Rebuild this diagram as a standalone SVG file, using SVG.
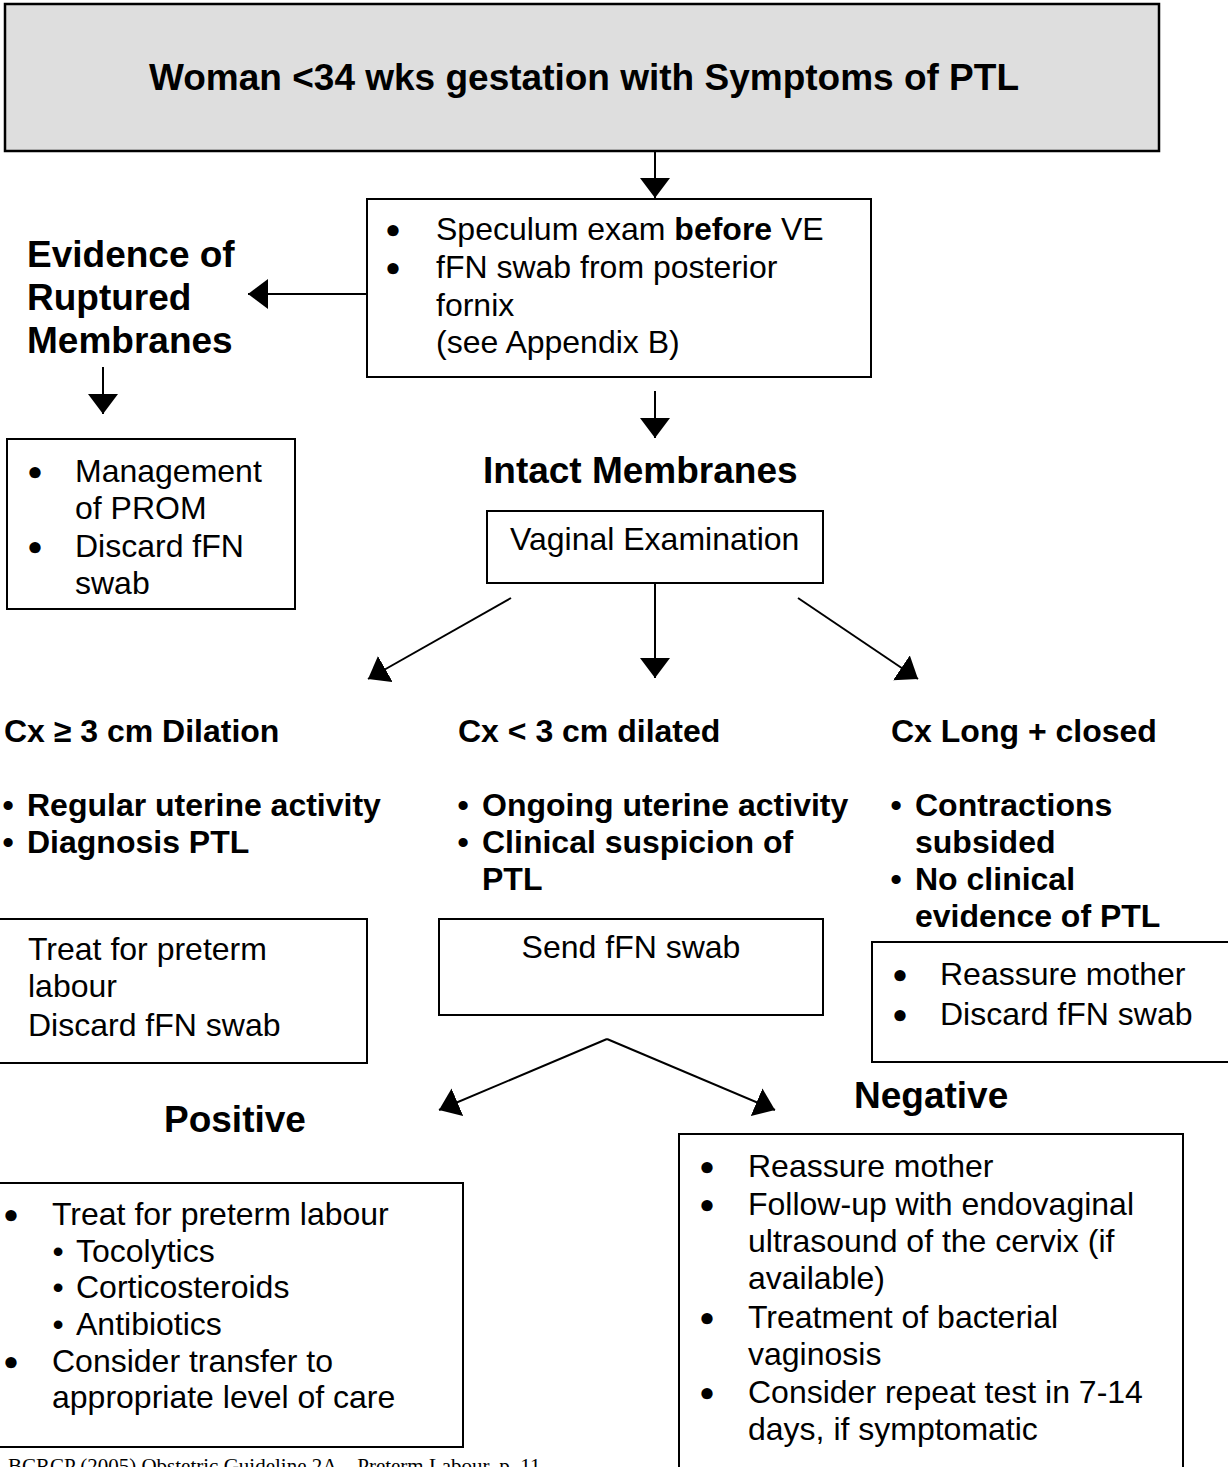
<svg xmlns="http://www.w3.org/2000/svg" width="1228" height="1467" viewBox="0 0 1228 1467">
<defs>
<style>
text { font-family: "Liberation Sans", Arial, sans-serif; font-size: 32px; fill: #000; }
.b { font-weight: bold; }
.h { font-size: 37px; font-weight: bold; }
.ttl { font-size: 37px; font-weight: bold; text-anchor: middle; }
.bul { font-family: "DejaVu Sans", sans-serif; font-weight: bold; font-size: 32px; text-anchor: middle; }
.sb { text-anchor: middle; }
.mid { text-anchor: middle; }
.box { fill: #fff; stroke: #000; stroke-width: 2; }
.grey { fill: #dedede; stroke: #000; stroke-width: 2.5; }
.con { stroke: #000; stroke-width: 2; fill: none; marker-end: url(#ah); }
.foot { font-family: "Liberation Serif", "Times New Roman", serif; font-size: 21px; }
</style>
<marker id="ah" viewBox="0 0 20 30" refX="20" refY="15" markerWidth="20" markerHeight="30" markerUnits="userSpaceOnUse" orient="auto">
<path d="M0,0 L20,15 L0,30 z" fill="#000"/>
</marker>
</defs>
<rect width="1228" height="1467" fill="#fff"/>

<g id="connectors">
<line class="con" x1="655" y1="151" x2="655" y2="198"/>
<line class="con" x1="367" y1="294" x2="248" y2="294"/>
<line class="con" x1="103" y1="367" x2="103" y2="414"/>
<line class="con" x1="655" y1="391" x2="655" y2="438"/>
<line class="con" x1="511" y1="598" x2="368" y2="679"/>
<line class="con" x1="655" y1="583" x2="655" y2="678"/>
<line class="con" x1="798" y1="598" x2="918" y2="679"/>
<line class="con" x1="607" y1="1039" x2="439" y2="1110"/>
<line class="con" x1="607" y1="1039" x2="775" y2="1110"/>
</g>

<g id="start">
<rect class="grey" x="5" y="4" width="1154" height="147"/>
<text class="ttl" x="584" y="90">Woman &lt;34 wks gestation with Symptoms of PTL</text>
</g>

<g id="speculum">
<rect class="box" x="367" y="199" width="504" height="178"/>
<text class="bul" x="393" y="243">•</text>
<text class="bul" x="393" y="281">•</text>
<text x="436" y="240">Speculum exam <tspan class="b">before</tspan> VE</text>
<text x="436" y="278">fFN swab from posterior</text>
<text x="436" y="316">fornix</text>
<text x="436" y="353">(see Appendix B)</text>
</g>

<g id="ruptured">
<text class="h" x="27" y="267">Evidence of</text>
<text class="h" x="27" y="310">Ruptured</text>
<text class="h" x="27" y="353">Membranes</text>
</g>

<g id="prom">
<rect class="box" x="7" y="439" width="288" height="170"/>
<text class="bul" x="35" y="485">•</text>
<text class="bul" x="35" y="560">•</text>
<text x="75" y="482">Management</text>
<text x="75" y="519">of PROM</text>
<text x="75" y="557">Discard fFN</text>
<text x="75" y="594">swab</text>
</g>

<g id="intact">
<text class="h" x="483" y="483">Intact Membranes</text>
</g>

<g id="ve">
<rect class="box" x="487" y="511" width="336" height="72"/>
<text x="510" y="550">Vaginal Examination</text>
</g>

<g id="dilation">
<text class="b" x="4" y="742">Cx ≥ 3 cm Dilation</text>
<text class="b sb" x="8" y="816">•</text>
<text class="b" x="27" y="816">Regular uterine activity</text>
<text class="b sb" x="8" y="853">•</text>
<text class="b" x="27" y="853">Diagnosis PTL</text>
</g>

<g id="dilated">
<text class="b" x="458" y="742">Cx &lt; 3 cm dilated</text>
<text class="b sb" x="463" y="816">•</text>
<text class="b" x="482" y="816">Ongoing uterine activity</text>
<text class="b sb" x="463" y="853">•</text>
<text class="b" x="482" y="853">Clinical suspicion of</text>
<text class="b" x="482" y="890">PTL</text>
</g>

<g id="closed">
<text class="b" x="891" y="742">Cx Long + closed</text>
<text class="b sb" x="896" y="816">•</text>
<text class="b" x="915" y="816">Contractions</text>
<text class="b" x="915" y="853">subsided</text>
<text class="b sb" x="896" y="890">•</text>
<text class="b" x="915" y="890">No clinical</text>
<text class="b" x="915" y="927">evidence of PTL</text>
</g>

<g id="treat">
<rect class="box" x="-5" y="919" width="372" height="144"/>
<text x="28" y="960">Treat for preterm</text>
<text x="28" y="997">labour</text>
<text x="28" y="1036">Discard fFN swab</text>
</g>

<g id="send">
<rect class="box" x="439" y="919" width="384" height="96"/>
<text class="mid" x="631" y="958">Send fFN swab</text>
</g>

<g id="reassure">
<rect class="box" x="872" y="942" width="370" height="120"/>
<text class="bul" x="900" y="988">•</text>
<text class="bul" x="900" y="1028">•</text>
<text x="940" y="985">Reassure mother</text>
<text x="940" y="1025">Discard fFN swab</text>
</g>

<g id="positive">
<text class="h" x="164" y="1132">Positive</text>
<rect class="box" x="-5" y="1183" width="468" height="264"/>
<text class="bul" x="11" y="1228">•</text>
<text class="bul" x="11" y="1375">•</text>
<text x="52" y="1225">Treat for preterm labour</text>
<text class="sb" x="58" y="1262">•</text>
<text x="76" y="1262">Tocolytics</text>
<text class="sb" x="58" y="1298">•</text>
<text x="76" y="1298">Corticosteroids</text>
<text class="sb" x="58" y="1335">•</text>
<text x="76" y="1335">Antibiotics</text>
<text x="52" y="1372">Consider transfer to</text>
<text x="52" y="1408">appropriate level of care</text>
</g>

<g id="negative">
<text class="h" x="854" y="1108">Negative</text>
<rect class="box" x="679" y="1134" width="504" height="350"/>
<text class="bul" x="707" y="1180">•</text>
<text class="bul" x="707" y="1218">•</text>
<text class="bul" x="707" y="1331">•</text>
<text class="bul" x="707" y="1406">•</text>
<text x="748" y="1177">Reassure mother</text>
<text x="748" y="1215">Follow-up with endovaginal</text>
<text x="748" y="1252">ultrasound of the cervix (if</text>
<text x="748" y="1289">available)</text>
<text x="748" y="1328">Treatment of bacterial</text>
<text x="748" y="1365">vaginosis</text>
<text x="748" y="1403">Consider repeat test in 7-14</text>
<text x="748" y="1440">days, if symptomatic</text>
</g>

<text class="foot" x="8" y="1473">BCRCP (2005) Obstetric Guideline 2A – Preterm Labour, p. 11</text>
</svg>
